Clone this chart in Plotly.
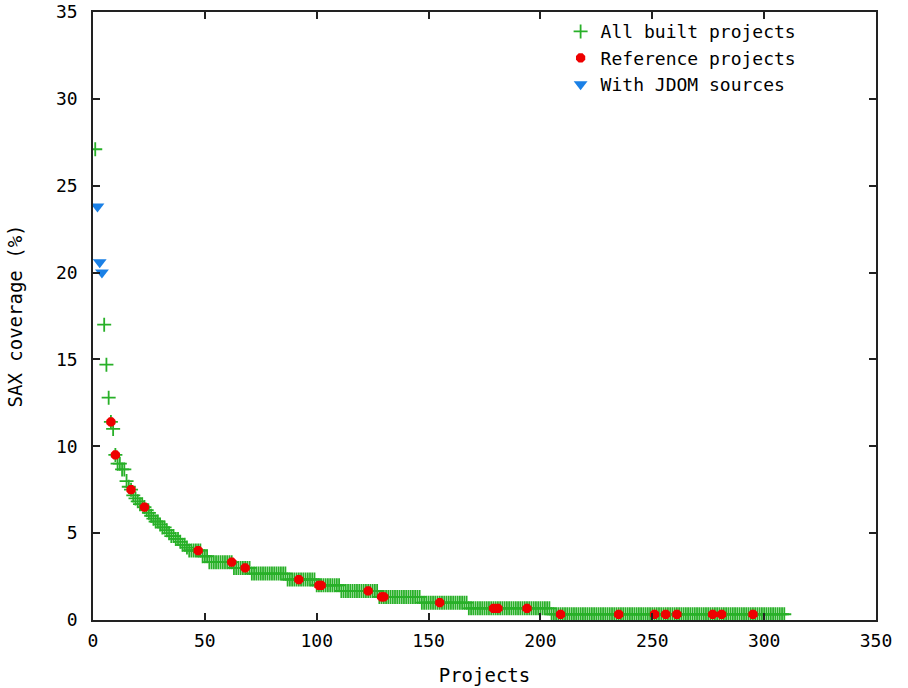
import plotly.graph_objects as go

# SAX coverage per project, projects ranked 1..309 by coverage.
# Projects 2-4 are the ones shipping JDOM sources (drawn separately).
head_cov = [27.1, None, None, None, 17.0, 14.7, 12.8, 11.4, 11.0, 9.5,
            9.0, 9.0, 8.67, 8.67, 8.0, 7.67, 7.5, 7.17, 7.0, 6.83,
            6.67, 6.67, 6.5, 6.33, 6.17, 6.0, 5.83, 5.67, 5.67, 5.5,
            5.33, 5.33, 5.17, 5.0, 4.83, 4.83, 4.67, 4.67, 4.5, 4.33,
            4.33, 4.17]
# long tail: coverage level and number of projects sharing it
tail_cov = [4.0, 3.67, 3.33, 3.0, 2.67, 2.33, 2.0, 1.67, 1.33, 1.0, 0.67, 0.33]
tail_len = [6, 3, 11, 8, 16, 13, 11, 17, 19, 21, 37, 105]

# ranks of the reference projects
ref_rank = [8, 10, 17, 23, 47, 62, 68, 92, 101, 102, 123, 129, 130, 155,
            179, 181, 194, 209, 235, 251, 256, 261, 277, 281, 295]

# projects with JDOM sources
jdom_rank = [2, 3, 4]
jdom_cov = [23.8, 20.6, 20.0]

built_cov = list(head_cov)
for level, n in zip(tail_cov, tail_len):
    built_cov.extend([level] * n)
built_rank = list(range(1, len(built_cov) + 1))
ref_cov = [built_cov[r - 1] for r in ref_rank]

FONT = "DejaVu Sans Mono"

fig = go.Figure()
fig.add_trace(go.Scatter(
    x=built_rank, y=built_cov, mode="markers", name="All built projects",
    marker=dict(symbol="cross-thin", size=10, color="#28b028",
                line=dict(width=1.8, color="#28b028")),
))
fig.add_trace(go.Scatter(
    x=ref_rank, y=ref_cov, mode="markers", name="Reference projects",
    marker=dict(symbol="octagon", size=10, color="#ee0000",
                line=dict(width=0)),
))
fig.add_trace(go.Scatter(
    x=jdom_rank, y=jdom_cov, mode="markers", name="With JDOM sources",
    marker=dict(symbol="triangle-down", size=12, color="#1a80e6",
                line=dict(width=0)),
))

axis_common = dict(
    showline=True, linecolor="#222222", linewidth=1.5, mirror="ticks",
    ticks="inside", ticklen=7, tickwidth=1.5, tickcolor="#222222",
    showgrid=False, zeroline=False, automargin=False,
    tickfont=dict(family=FONT, size=18, color="black"),
)

fig.update_layout(
    width=908, height=688,
    margin=dict(l=93, r=32, t=12, b=68),
    paper_bgcolor="white", plot_bgcolor="white",
    font=dict(family=FONT, size=18, color="black"),
    xaxis=dict(range=[0, 350], dtick=50, tick0=0,
               title=dict(text="Projects", font=dict(family=FONT, size=19),
                          standoff=18),
               ticklabelstandoff=4, **axis_common),
    yaxis=dict(range=[0, 35], dtick=5, tick0=0,
               title=dict(text="SAX coverage (%)",
                          font=dict(family=FONT, size=19), standoff=28),
               ticklabelstandoff=10, **axis_common),
    legend=dict(x=0.905, y=0.998, xanchor="right", yanchor="top",
                bgcolor="rgba(0,0,0,0)", borderwidth=0,
                font=dict(family=FONT, size=18), tracegroupgap=0,
                itemsizing="trace"),
)

fig.write_html("out.html")
